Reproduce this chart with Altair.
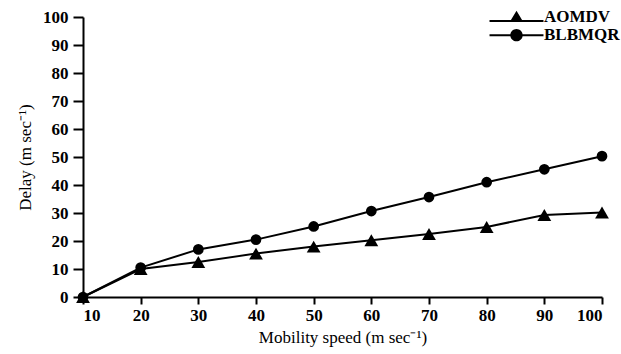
import altair as alt
import pandas as pd

speeds = [10, 20, 30, 40, 50, 60, 70, 80, 90, 100]
aomdv = [0, 10, 12.5, 15.5, 18, 20.3, 22.5, 25, 29.3, 30.2]
blbmqr = [0, 10.5, 17, 20.5, 25.2, 30.7, 35.7, 41, 45.6, 50.3]
series_names = ["AOMDV", "BLBMQR"]
y_ticks = [0, 10, 20, 30, 40, 50, 60, 70, 80, 90, 100]

rows = []
for s, a, b in zip(speeds, aomdv, blbmqr):
    rows.append({"speed": s, "delay": a, "series": series_names[0]})
    rows.append({"speed": s, "delay": b, "series": series_names[1]})
df = pd.DataFrame(rows)

FONT = "Liberation Serif"

# legend glyphs: a horizontal bar (drawn as a thin filled rectangle) with the marker on it
tri_leg = ("M-4.15,0.55 L4.15,0.55 L4.15,0.85 L-4.15,0.85 Z "
           "M0,-0.9 L0.95,0.7 L-0.95,0.7 Z")
cir_leg = ("M-4.15,-0.05 L4.15,-0.05 L4.15,0.25 L-4.15,0.25 Z "
           "M-0.95,0.1 A0.95,0.95 0 1,1 0.95,0.1 A0.95,0.95 0 1,1 -0.95,0.1 Z")

x = alt.X("speed:Q", scale=alt.Scale(domain=[10, 100], nice=False, zero=False),
          axis=alt.Axis(values=speeds, title="Mobility speed (m sec⁻¹)", grid=False,
                        tickSize=7, labelPadding=3, titlePadding=6))
y = alt.Y("delay:Q", scale=alt.Scale(domain=[0, 100], nice=False),
          axis=alt.Axis(values=y_ticks, title="Delay (m sec⁻¹)", grid=False,
                        tickSize=10, labelPadding=5, titlePadding=8))

base = alt.Chart(df)

lines = base.mark_line(color="black", strokeWidth=2).encode(
    x=x, y=y, detail="series:N")

tri_points = base.transform_filter(alt.datum.series == series_names[0]).mark_point(
    shape="triangle-up", size=190, filled=True, color="black", opacity=1
).encode(x=x, y=y)

cir_points = base.transform_filter(alt.datum.series == series_names[1]).mark_point(
    shape="circle", size=115, filled=True, color="black", opacity=1
).encode(x=x, y=y)

legend_layer = base.mark_point(filled=True, color="#000000", opacity=0).encode(
    x=x, y=y,
    shape=alt.Shape("series:N",
                    scale=alt.Scale(domain=series_names, range=[tri_leg, cir_leg]),
                    legend=alt.Legend(
                        title=None, orient="none", legendX=425, legendY=-9,
                        labelFont=FONT, labelFontWeight="bold", labelFontSize=17,
                        labelColor="#000000", symbolSize=169, labelOffset=19,
                        rowPadding=0, padding=0,
                        symbolFillColor="#000000", symbolStrokeColor="#000000",
                        symbolStrokeWidth=0, symbolOpacity=1)),
)

chart = alt.layer(lines, tri_points, cir_points, legend_layer).properties(
    width=519, height=280,
    autosize=alt.AutoSizeParams(type="none"),
    padding={"left": 83, "top": 17, "right": 19, "bottom": 57},
).configure_view(stroke=None).configure_axis(
    domainColor="#000000", domainWidth=2, tickColor="#000000", tickWidth=2,
    labelFont=FONT, labelFontWeight="bold", labelFontSize=17, labelColor="#000000",
    titleFont=FONT, titleFontWeight="normal", titleFontSize=17, titleColor="#000000",
)

chart.save("out.html", embed_options={"renderer": "svg", "actions": False})
